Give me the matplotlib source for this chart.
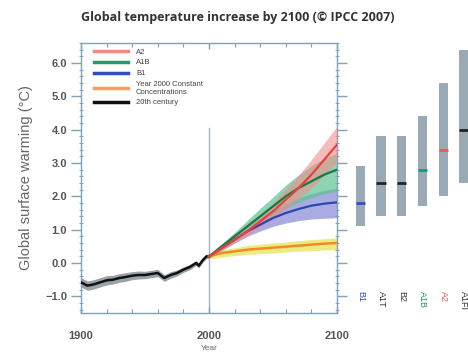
import matplotlib
matplotlib.use("Agg")
import matplotlib.pyplot as plt
import numpy as np
from matplotlib.ticker import MultipleLocator

# ---------------- data ----------------
years20 = [1900, 1905, 1910, 1915, 1920, 1925, 1930, 1935, 1940, 1945, 1950,
           1955, 1960, 1965, 1970, 1975, 1980, 1985, 1990, 1992, 1995, 1998, 2000]
t20 = [-0.58, -0.68, -0.64, -0.58, -0.52, -0.50, -0.45, -0.42, -0.38, -0.36, -0.36,
       -0.33, -0.30, -0.45, -0.36, -0.30, -0.20, -0.12, 0.00, -0.08, 0.08, 0.20, 0.20]
t20_lo = [-0.72, -0.82, -0.78, -0.72, -0.66, -0.63, -0.58, -0.55, -0.50, -0.48, -0.47,
          -0.44, -0.41, -0.55, -0.46, -0.39, -0.28, -0.20, -0.07, -0.15, 0.01, 0.13, 0.13]
t20_hi = [-0.44, -0.54, -0.50, -0.44, -0.38, -0.37, -0.32, -0.29, -0.26, -0.24, -0.25,
          -0.22, -0.19, -0.35, -0.26, -0.21, -0.12, -0.04, 0.07, -0.01, 0.15, 0.27, 0.27]

years_p = [2000, 2010, 2020, 2030, 2040, 2050, 2060, 2070, 2080, 2090, 2100]
a2 = [0.20, 0.45, 0.70, 0.95, 1.25, 1.55, 1.90, 2.25, 2.65, 3.10, 3.55]
a2_lo = [0.15, 0.38, 0.60, 0.82, 1.08, 1.33, 1.62, 1.92, 2.25, 2.62, 3.05]
a2_hi = [0.25, 0.52, 0.80, 1.10, 1.45, 1.80, 2.22, 2.63, 3.10, 3.60, 4.10]
a1b = [0.20, 0.50, 0.80, 1.10, 1.40, 1.70, 2.00, 2.25, 2.45, 2.65, 2.80]
a1b_lo = [0.15, 0.42, 0.68, 0.94, 1.18, 1.42, 1.64, 1.82, 1.96, 2.08, 2.15]
a1b_hi = [0.25, 0.58, 0.92, 1.28, 1.64, 1.98, 2.34, 2.64, 2.92, 3.14, 3.30]
b1 = [0.20, 0.45, 0.70, 0.95, 1.15, 1.35, 1.50, 1.62, 1.72, 1.78, 1.82]
b1_lo = [0.15, 0.38, 0.60, 0.80, 0.96, 1.10, 1.20, 1.27, 1.32, 1.34, 1.36]
b1_hi = [0.25, 0.52, 0.80, 1.10, 1.35, 1.58, 1.78, 1.95, 2.08, 2.18, 2.25]
com = [0.20, 0.30, 0.35, 0.40, 0.43, 0.46, 0.49, 0.52, 0.55, 0.58, 0.60]
com_lo = [0.12, 0.18, 0.22, 0.26, 0.28, 0.30, 0.33, 0.35, 0.37, 0.39, 0.40]
com_hi = [0.28, 0.40, 0.46, 0.52, 0.56, 0.60, 0.63, 0.67, 0.70, 0.73, 0.76]

scen = ["B1", "A1T", "B2", "A1B", "A2", "A1FI"]
scen_lo = [1.1, 1.4, 1.4, 1.7, 2.0, 2.4]
scen_hi = [2.9, 3.8, 3.8, 4.4, 5.4, 6.4]
scen_best = [1.8, 2.4, 2.4, 2.8, 3.4, 4.0]
scen_col = ["#3050c0", "#222222", "#222222", "#1a9a6a", "#e85a5a", "#222222"]

yticks = [-1.0, 0.0, 1.0, 2.0, 3.0, 4.0, 5.0, 6.0]
xticks = [1900, 2000, 2100]

# ---------------- figure ----------------
plt.rcParams['font.family'] = ['Liberation Sans', 'DejaVu Sans']
fig = plt.figure(figsize=(4.68, 3.52), dpi=100)
W, H = 468, 352
ax = fig.add_axes([81 / W, 1 - 313 / H, (337 - 81) / W, (313 - 43) / H])

spc = "#7fa3b8"
ax.fill_between(years20, t20_lo, t20_hi, color="#9aa3a8", lw=0, zorder=1)
ax.plot(years20, t20, color="#111111", lw=1.8, zorder=5)

ax.fill_between(years_p, com_lo, com_hi, color="#e6e24a", alpha=0.7, lw=0, zorder=1)
ax.fill_between(years_p, b1_lo, b1_hi, color="#8f8fdc", alpha=0.75, lw=0, zorder=2)
ax.fill_between(years_p, a1b_lo, a1b_hi, color="#5cc392", alpha=0.7, lw=0, zorder=2)
ax.fill_between(years_p, a2_lo, a2_hi, color="#f08e8e", alpha=0.6, lw=0, zorder=3)

ax.plot(years_p, com, color="#f28a2c", lw=1.8, zorder=6)
ax.plot(years_p, b1, color="#2a48b0", lw=1.6, zorder=6)
ax.plot(years_p, a1b, color="#127a45", lw=1.6, zorder=6)
ax.plot(years_p, a2, color="#e8403a", lw=1.6, zorder=7)

ax.axvline(2000, ymin=0, ymax=0.685, color="#9fb5c4", lw=1.0, zorder=0)

ax.set_xlim(1900, 2100)
ax.set_ylim(-1.5, 6.6)
for s in ax.spines.values():
    s.set_color(spc)
    s.set_linewidth(1.0)

ax.set_yticks(yticks)
ax.set_yticklabels([f"{v:.1f}".replace("-", "\u2212") for v in yticks])
ax.yaxis.set_minor_locator(MultipleLocator(0.2))
ax.set_xticks(xticks)
ax.set_xticklabels([str(v) for v in xticks])
ax.xaxis.set_minor_locator(MultipleLocator(20))
ax.tick_params(axis='y', which='major', direction='out', length=7, width=1.0,
               color=spc, labelsize=8, labelcolor="#555555", right=True, pad=3)
ax.tick_params(axis='y', which='minor', direction='inout', length=3, width=0.7,
               color=spc, right=True)
ax.tick_params(axis='x', which='major', direction='in', length=4, width=1.0,
               color=spc, labelsize=8, labelcolor="#555555", top=True, pad=13)
ax.tick_params(axis='x', which='minor', direction='in', length=3, width=0.8,
               color=spc, top=True)
for lab in ax.get_xticklabels() + ax.get_yticklabels():
    lab.set_fontweight('bold')

ax.set_ylabel("Global surface warming (\u00b0C)", fontsize=10.5, color="#666666", labelpad=9)
ax.set_xlabel("Year", fontsize=6, color="#666666", labelpad=3)

# legend
from matplotlib.lines import Line2D
handles = [Line2D([], [], color="#f08c80", lw=2.5),
           Line2D([], [], color="#2a9a6a", lw=2.5),
           Line2D([], [], color="#3050c0", lw=2.5),
           Line2D([], [], color="#f5a060", lw=2.5),
           Line2D([], [], color="#111111", lw=2.5)]
labels = ["A2", "A1B", "B1", "Year 2000 Constant\nConcentrations", "20th century"]
leg = ax.legend(handles, labels, loc="upper left", bbox_to_anchor=(0.03, 1.0),
                frameon=False, fontsize=5.5, handlelength=4.5, handletextpad=1.0,
                labelspacing=0.45, borderaxespad=0.3)
for t in leg.get_texts():
    t.set_color("#444444")

# scenario bars
bx = fig.add_axes([350 / W, 1 - 313 / H, 118 / W, (313 - 43) / H])
bx.set_xlim(0, 5.7)
bx.set_ylim(-1.5, 6.6)
bx.axis("off")
pos = np.arange(len(scen)) + 0.5
bx.bar(pos, np.array(scen_hi) - np.array(scen_lo), bottom=scen_lo, width=0.45,
       color="#9aaab4", lw=0)
for p, b, c, n in zip(pos, scen_best, scen_col, scen):
    bx.plot([p - 0.225, p + 0.225], [b, b], color=c, lw=2, solid_capstyle='butt')
    bx.text(p, -0.85, n, rotation=-90, ha="center", va="top", fontsize=6.5,
            color=c if c != "#222222" else "#333333")

fig.text(238 / W, 1 - 17 / H, "Global temperature increase by 2100 (\u00a9 IPCC 2007)",
         ha="center", va="center", fontsize=9, fontweight="bold", color="#333333",
         family=["Open Sans", "DejaVu Sans"])

fig.savefig("out.png", dpi=100)
